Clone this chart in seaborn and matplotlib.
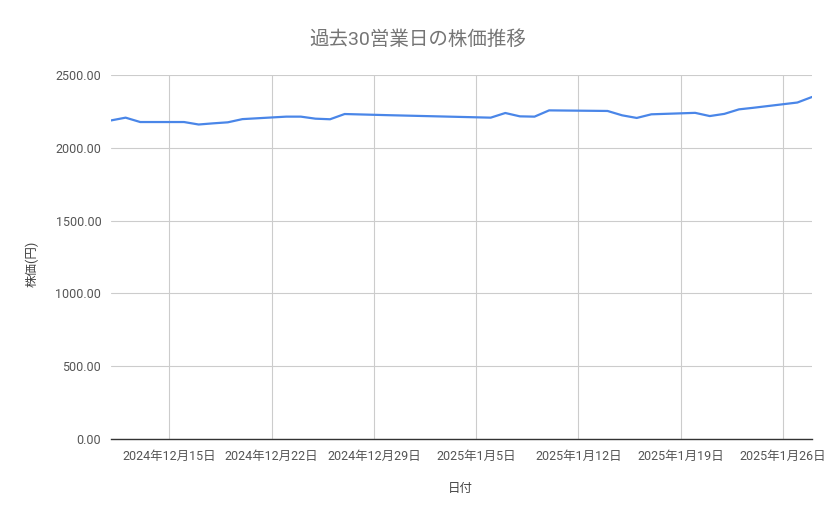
import matplotlib
matplotlib.use('Agg')
import matplotlib.pyplot as plt
import matplotlib.dates as mdates
import matplotlib.ticker as mticker
import pandas as pd
import seaborn as sns

# 30 business days
dates = ['2024-12-11', '2024-12-12', '2024-12-13', '2024-12-16', '2024-12-17',
         '2024-12-18', '2024-12-19', '2024-12-20', '2024-12-23', '2024-12-24',
         '2024-12-25', '2024-12-26', '2024-12-27', '2024-12-30', '2025-01-06',
         '2025-01-07', '2025-01-08', '2025-01-09', '2025-01-10', '2025-01-14',
         '2025-01-15', '2025-01-16', '2025-01-17', '2025-01-20', '2025-01-21',
         '2025-01-22', '2025-01-23', '2025-01-24', '2025-01-27', '2025-01-28']
prices = [2188, 2207, 2177, 2177, 2160,
          2168, 2175, 2197, 2214, 2214,
          2200, 2196, 2232, 2224, 2207,
          2239, 2216, 2214, 2257, 2253,
          2223, 2205, 2230, 2240, 2218,
          2233, 2264, 2275, 2311, 2349]
week_ticks = ['2024-12-15', '2024-12-22', '2024-12-29', '2025-01-05',
              '2025-01-12', '2025-01-19', '2025-01-26']
y_ticks = [0, 500, 1000, 1500, 2000, 2500]

df = pd.DataFrame({'日付': pd.to_datetime(dates), '株価': prices})

sns.set_theme(style='whitegrid')
plt.rcParams['font.family'] = ['Roboto', 'Noto Sans CJK JP', 'DejaVu Sans']

fig = plt.figure(figsize=(8.39, 5.19), dpi=100)
ax = fig.add_axes([0.1323, 0.1541, 0.8355, 0.7014])

sns.lineplot(data=df, x='日付', y='株価', ax=ax, color='#4a86e8', linewidth=1.6)

# axis ranges and ticks
ax.set_xlim(df['日付'].min(), df['日付'].max())
ax.set_ylim(0, 2500)
ax.set_xticks(pd.to_datetime(week_ticks))
ax.xaxis.set_major_formatter(mticker.FuncFormatter(
    lambda v, pos: (lambda d: f'{d.year}年{d.month}月{d.day}日')(mdates.num2date(v))))
ax.set_yticks(y_ticks)
ax.yaxis.set_major_formatter(mticker.FormatStrFormatter('%.2f'))

# grid and spines, google sheets look
ax.grid(True, color='#cccccc', linewidth=0.8)
for side in ['left', 'right', 'top']:
    ax.spines[side].set_visible(False)
ax.spines['bottom'].set_color('#333333')
ax.spines['bottom'].set_linewidth(1.0)
ax.tick_params(axis='both', length=0, labelsize=9, labelcolor='#555555')
ax.tick_params(axis='x', pad=8)
ax.tick_params(axis='y', pad=7)

# labels and title
ax.set_xlabel('日付', fontsize=9, color='#444444')
ax.set_ylabel('株価(円)', fontsize=9, color='#444444')
ax.xaxis.set_label_coords(0.498, -0.118)
ax.yaxis.set_label_coords(-0.103, 0.48)
fig.text(0.498, 0.923, '過去30営業日の株価推移', ha='center', va='center',
         fontsize=14, color='#757575')

fig.savefig('out.png', dpi=100)
